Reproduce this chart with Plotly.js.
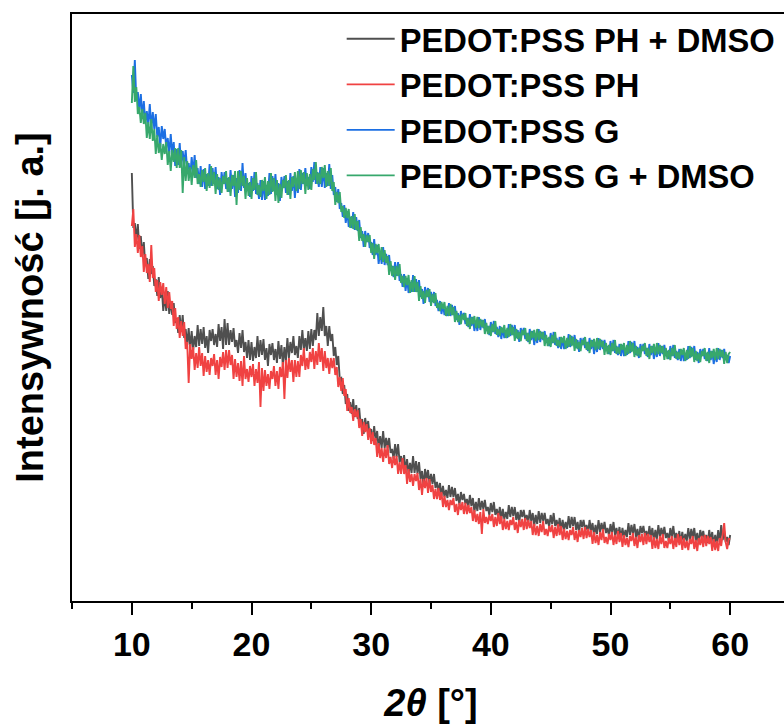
<!DOCTYPE html>
<html>
<head>
<meta charset="utf-8">
<script src="https://cdn.plot.ly/plotly-3.0.1.min.js"></script>
<style>html,body{margin:0;padding:0;overflow:hidden;background:#fff;}#chart{width:800px;height:724px;}</style>
</head>
<body>
<div id="chart"></div>
<script>
// 2-theta sampling: start and step (degrees)
const twoThetaStart = 10;
const twoThetaStep = 0.125;

const seriesNames = ["PEDOT:PSS PH + DMSO", "PEDOT:PSS PH", "PEDOT:PSS G", "PEDOT:PSS G + DMSO"];

// Intensity (arbitrary units), 10..60 deg every 0.125 deg (8 values per degree)
const phDmso = [
428,373,378,361,377,352,365,346,
359,335,343,322,342,327,335,315,
322,305,324,303,314,290,306,290,
310,287,300,286,298,278,283,268,
286,269,286,263,272,256,273,252,
270,251,265,254,276,255,272,257,
274,253,265,248,271,260,272,256,
267,254,277,260,274,252,282,256,
278,256,271,259,273,254,261,248,
268,253,271,249,259,243,261,241,
259,240,254,243,265,244,261,246,
262,241,253,235,257,246,258,241,
252,238,260,242,256,235,254,240,
263,243,259,248,265,246,255,243,
265,251,271,251,263,250,270,252,
272,255,271,261,288,265,284,270,
294,265,275,255,275,260,267,245,
254,236,245,222,223,207,216,197,
207,190,199,187,202,184,196,182,
193,175,182,167,183,172,180,166,
172,160,175,160,170,152,165,153,
170,153,163,153,163,148,152,142,
157,144,157,139,145,133,146,130,
142,127,138,128,145,128,140,127,
139,122,130,115,132,122,131,117,
127,117,127,113,119,109,118,105,
115,104,111,103,116,104,114,104,
113,100,107,96,109,101,107,97,
102,94,106,95,103,89,99,90,
103,91,100,92,101,90,94,86,
98,89,99,86,92,83,94,82,
92,82,89,82,96,84,94,85,
94,81,89,78,91,84,91,81,
86,78,91,80,88,75,86,77,
90,78,88,80,88,77,82,74,
86,77,88,75,81,72,83,71,
81,71,79,72,85,73,84,75,
84,71,79,68,81,74,81,71,
76,68,81,70,78,65,76,67,
81,69,78,70,79,68,73,65,
77,68,79,66,73,64,74,62,
73,63,71,64,78,66,76,67,
77,64,72,61,75,68,75,65,
70,62,75,64,73,60,71,62,
76,64,73,65,74,63,68,60,
73,64,75,62,68,59,70,58,
69,59,67,60,73,61,72,63,
73,60,68,57,71,64,70,60,
66,58,71,60,69,56,66,57,
71,59,76,61,70,59,64,56,
66];

const ph = [
375,392,354,367,348,366,344,355,
329,347,328,337,319,356,323,333,
309,321,300,319,306,318,297,314,
293,309,292,300,275,293,272,284,
263,280,265,279,252,259,218,257,
242,254,231,248,233,254,235,248,
225,245,229,241,226,243,235,247,
226,241,222,244,234,249,231,251,
233,251,236,246,222,242,224,238,
220,240,215,245,222,232,219,235,
224,237,215,232,218,239,194,233,
210,231,215,227,212,230,222,235,
215,230,212,234,224,239,202,241,
223,243,229,241,219,241,224,240,
224,246,235,253,231,243,232,249,
239,253,232,250,236,258,239,253,
230,250,233,243,227,243,233,243,
226,234,214,224,210,223,205,212,
190,203,188,194,180,192,184,191,
173,182,165,179,169,177,161,173,
157,169,156,163,144,158,143,153,
139,153,143,156,137,144,133,145,
136,145,127,139,127,143,127,136,
117,132,119,127,115,127,120,128,
111,122,106,122,113,123,108,122,
109,116,102,112,102,113,101,109,
94,105,94,101,91,101,96,103,
89,97,86,98,91,99,87,98,
87,96,88,94,80,91,79,87,
77,89,67,92,78,84,77,86,
80,87,74,84,75,88,77,85,
71,82,72,80,71,81,76,84,
71,79,68,81,74,82,71,83,
72,81,73,80,66,77,66,75,
65,77,69,80,66,72,65,75,
69,76,63,74,65,77,66,75,
61,72,62,70,61,71,66,74,
61,70,59,71,64,73,62,74,
63,72,64,71,57,69,58,66,
56,69,61,72,58,64,57,67,
61,69,56,66,57,70,59,68,
54,66,56,63,54,65,60,68,
55,64,53,66,59,67,56,68,
57,67,59,66,52,64,53,62,
52,65,57,67,53,60,53,63,
57,65,52,63,54,67,56,65,
51,63,53,60,51,62,57,65,
52,61,50,63,56,65,54,66,
55,65,57,64,50,62,51,60,
50,63,55,66,78,59,52,62,
62];

const g = [
526,508,541,500,509,491,507,484,
500,478,490,476,497,473,489,472,
487,464,474,454,475,462,472,453,
463,447,467,447,459,435,452,436,
458,435,450,437,451,431,438,424,
444,428,446,423,433,417,435,414,
432,412,427,415,437,415,433,417,
434,412,424,406,429,417,429,412,
423,409,431,412,426,404,423,408,
431,410,438,413,428,410,418,404,
425,410,429,407,418,402,421,401,
420,401,416,405,428,407,425,410,
427,406,418,400,424,413,425,408,
420,406,428,410,425,403,422,408,
432,411,428,417,433,415,424,412,
434,419,439,417,429,414,434,414,
433,413,428,415,437,412,426,406,
414,399,412,392,398,384,396,378,
390,374,384,373,389,371,384,370,
381,363,370,354,370,359,368,353,
359,346,362,346,356,337,350,337,
354,336,347,336,346,330,335,324,
339,325,339,320,327,314,327,310,
323,308,319,309,326,309,322,309,
321,304,312,297,314,304,313,299,
309,299,309,295,301,290,300,287,
297,286,293,285,298,285,296,286,
295,281,288,276,290,282,288,277,
283,274,287,275,284,270,280,270,
284,271,281,273,282,270,275,266,
279,269,280,267,274,264,275,262,
273,263,271,263,277,265,276,266,
276,263,271,259,273,266,273,262,
268,259,272,261,270,256,267,258,
272,259,269,261,270,258,263,255,
268,258,269,256,263,253,264,252,
263,252,260,253,267,254,265,256,
266,253,261,249,263,256,263,253,
259,250,263,252,261,247,258,249,
263,251,261,252,261,250,255,247,
260,250,261,248,255,246,257,245,
256,245,253,246,260,248,259,250,
260,246,254,243,257,250,257,247,
253,244,257,246,255,242,253,244,
258,245,255,247,256,245,250,242,
255,245,256,243,250,241,252,240,
251,240,248,241,255,243,254,245,
255,241,249,238,252,245,252,242,
248,240,253,241,250,237,248,239,
253,241,251,243,252,241,246,238,
245];

const gDmso = [
498,535,499,514,487,494,478,492,
477,488,463,479,462,482,460,472,
447,466,448,458,441,457,447,459,
436,450,430,451,439,453,433,453,
433,451,408,444,420,440,420,434,
416,436,423,441,417,427,414,431,
419,433,410,428,413,435,415,429,
407,427,411,423,408,425,417,430,
409,424,405,426,415,430,396,430,
411,430,415,425,402,423,405,419,
402,423,411,429,406,416,404,421,
410,424,402,420,406,428,409,423,
400,421,398,417,403,421,413,426,
406,421,402,424,414,429,410,430,
412,431,417,429,407,428,411,427,
411,432,421,439,417,428,417,434,
423,436,414,430,415,433,410,419,
396,409,398,409,389,395,383,393,
383,392,373,385,372,387,371,380,
360,374,360,367,354,366,359,366,
348,358,342,357,348,357,341,354,
339,351,338,345,326,340,325,335,
321,335,325,337,318,325,314,325,
316,326,308,321,309,325,309,319,
300,315,302,310,298,311,304,312,
295,307,298,308,293,298,290,299,
292,299,285,295,285,297,286,294,
279,290,279,286,277,287,281,288,
275,283,272,284,277,285,273,284,
273,282,274,281,267,278,267,275,
265,277,269,280,266,272,265,274,
268,276,263,273,264,277,266,274,
260,272,262,269,260,271,266,273,
260,268,257,270,263,271,260,272,
261,270,262,269,255,266,255,264,
254,266,258,269,255,261,254,264,
258,265,252,263,254,266,255,264,
250,262,252,259,250,261,256,264,
251,259,248,261,254,262,251,263,
252,262,254,260,246,258,247,256,
246,258,250,261,247,254,247,257,
251,258,245,256,247,260,249,258,
244,255,245,253,244,255,250,258,
245,253,242,255,248,257,246,258,
247,256,248,255,241,253,242,251,
241,253,245,256,242,249,242,252,
246,253,240,251,242,255,244,253,
239,250,240,248,239,250,245,253,
240,249,238,250,243,252,241,253,
242,252,244,251,237,249,238,247,
249];

const tickVals = [10, 20, 30, 40, 50, 60];
const tickText = ["10", "20", "30", "40", "50", "60"];

const colors = ["#4f4f4f", "#f04242", "#1c6fe3", "#37a86c"];
const allY = [phDmso, ph, g, gDmso];

const FONT = "Liberation Sans, Arial, Helvetica, sans-serif";

const traces = allY.map((ys, i) => ({
  type: "scatter",
  mode: "lines",
  name: seriesNames[i],
  x0: twoThetaStart,
  dx: twoThetaStep,
  y: ys,
  line: {color: colors[i], width: 1.9}
}));

const layout = {
  width: 800,
  height: 724,
  margin: {l: 72, r: 10, t: 14, b: 123},
  paper_bgcolor: "#fff",
  plot_bgcolor: "#fff",
  showlegend: true,
  legend: {
    x: 0.3756, y: 1.005, xanchor: "left", yanchor: "top",
    bgcolor: "rgba(0,0,0,0)",
    font: {family: FONT, size: 32.7, color: "#000", weight: "bold"},
    itemwidth: 48,
    tracegroupgap: 0
  },
  xaxis: {
    range: [5, 65],
    showline: true, linecolor: "#000", linewidth: 2, mirror: true,
    showgrid: false, zeroline: false,
    tickmode: "array", tickvals: tickVals, ticktext: tickText,
    ticks: "outside", ticklen: 12, tickwidth: 2, tickcolor: "#000",
    minor: {dtick: 5, tick0: 5, ticks: "outside", ticklen: 6, tickwidth: 2, tickcolor: "#000", showgrid: false},
    tickfont: {family: FONT, size: 34, color: "#000", weight: "bold"},
    title: {text: "<b><i>2θ</i> [°]</b>", font: {family: FONT, size: 38, color: "#000"}, standoff: 31}
  },
  yaxis: {
    range: [0, 587],
    showline: true, linecolor: "#000", linewidth: 2, mirror: true,
    showgrid: false, zeroline: false,
    ticks: "", showticklabels: false,
    title: {text: "<b>Intensywność [j. a.]</b>", font: {family: FONT, size: 38, color: "#000"}, standoff: 15}
  }
};

Plotly.newPlot("chart", traces, layout, {staticPlot: true, displayModeBar: false});
</script>
</body>
</html>
